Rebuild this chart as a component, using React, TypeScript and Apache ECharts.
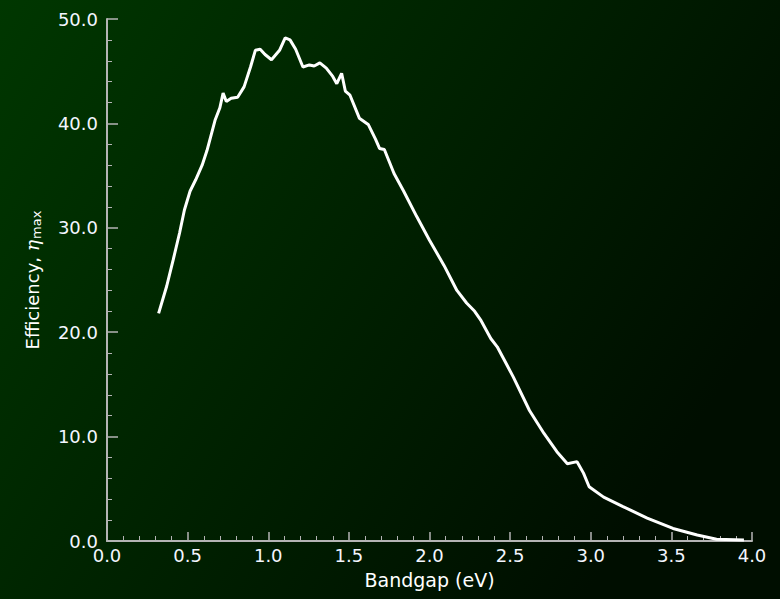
import React, { useEffect, useRef } from "react";
import * as echarts from "echarts";

const bandgap: number[] = [
  0.32, 0.37, 0.41, 0.45, 0.48, 0.515, 0.55, 0.59, 0.62, 0.67, 0.70, 0.72, 0.74, 0.77, 0.81, 0.85,
  0.89, 0.92, 0.95, 0.98, 1.02, 1.07, 1.105, 1.135, 1.17, 1.215, 1.255, 1.285, 1.32, 1.36, 1.40,
  1.425, 1.455, 1.478, 1.507, 1.565, 1.62, 1.665, 1.69, 1.72, 1.78, 1.84, 1.92, 2.00, 2.09, 2.17,
  2.23, 2.28, 2.32, 2.38, 2.42, 2.52, 2.62, 2.71, 2.79, 2.855, 2.915, 2.955, 2.99, 3.08, 3.20,
  3.35, 3.51, 3.66, 3.78, 3.95,
];
const efficiency: number[] = [
  21.8, 24.4, 26.9, 29.5, 31.7, 33.5, 34.6, 36.0, 37.4, 40.3, 41.5, 42.9, 42.1, 42.4, 42.5, 43.5,
  45.4, 47.0, 47.1, 46.6, 46.1, 47.0, 48.2, 48.0, 47.1, 45.4, 45.6, 45.5, 45.8, 45.3, 44.5,
  43.8, 44.8, 43.1, 42.7, 40.5, 39.9, 38.5, 37.6, 37.5, 35.2, 33.5, 31.1, 28.8, 26.4, 24.0,
  22.8, 22.0, 21.1, 19.4, 18.6, 15.7, 12.5, 10.3, 8.55, 7.4, 7.6, 6.5, 5.2, 4.2, 3.3,
  2.2, 1.2, 0.57, 0.16, 0.1,
];

const xTitle = "Bandgap (eV)";
const yTitle = "{n|Efficiency, }{eta|η}{sub|max}";

export default function App() {
  const ref = useRef<HTMLDivElement>(null);
  useEffect(() => {
    if (!ref.current) return;
    const chart = echarts.init(ref.current, undefined, { renderer: "svg" });
    const font = "'DejaVu Sans', Verdana, sans-serif";
    const axisColor = "#b4b4b4";
    chart.setOption({
      animation: false,
      backgroundColor: new echarts.graphic.LinearGradient(0, 0, 1, 0.5, [
        { offset: 0, color: "#003700" },
        { offset: 1, color: "#000e00" },
      ]),
      grid: { left: 107, right: 28, top: 19, bottom: 58, containLabel: false },
      xAxis: {
        type: "value",
        min: 0,
        max: 4,
        interval: 0.5,
        name: xTitle,
        nameLocation: "middle",
        nameGap: 29,
        nameTextStyle: { color: "#ffffff", fontSize: 19, fontFamily: font },
        axisLine: { show: true, lineStyle: { color: axisColor, width: 2 } },
        axisTick: { show: true, inside: true, length: 9, lineStyle: { color: axisColor, width: 1.5 } },
        minorTick: { show: true, splitNumber: 5, length: 5, lineStyle: { color: axisColor, width: 1 } },
        splitLine: { show: false },
        axisLabel: {
          color: "#f4f6ff",
          fontSize: 18,
          fontFamily: font,
          margin: 5,
          formatter: (v: number) => v.toFixed(1),
        },
      },
      yAxis: {
        type: "value",
        min: 0,
        max: 50,
        interval: 10,
        name: yTitle,
        nameLocation: "middle",
        nameGap: 64,
        nameRotate: 90,
        nameTextStyle: {
          color: "#ffffff",
          fontSize: 18,
          fontFamily: font,
          rich: {
            n: { color: "#ffffff", fontSize: 18, fontFamily: font },
            eta: { color: "#ffffff", fontSize: 19, fontStyle: "italic", fontFamily: "'DejaVu Serif', serif" },
            sub: { color: "#ffffff", fontSize: 13, fontFamily: font, padding: [9, 0, 0, 1] },
          },
        },
        axisLine: { show: true, lineStyle: { color: axisColor, width: 2 } },
        axisTick: { show: true, inside: true, length: 11, lineStyle: { color: axisColor, width: 1.5 } },
        minorTick: { show: true, splitNumber: 5, length: 5, lineStyle: { color: axisColor, width: 1 } },
        splitLine: { show: false },
        axisLabel: {
          color: "#f4f6ff",
          fontSize: 18,
          fontFamily: font,
          margin: 9,
          formatter: (v: number) => v.toFixed(1),
        },
      },
      series: [
        {
          type: "line",
          data: bandgap.map((x, i) => [x, efficiency[i]]),
          showSymbol: false,
          symbol: "none",
          lineStyle: { color: "#ffffff", width: 3 },
          z: 3,
        },
      ],
    });
    return () => chart.dispose();
  }, []);
  return (
    <div
      ref={ref}
      style={{ position: "absolute", left: 0, top: 0, width: 780, height: 599 }}
    />
  );
}
